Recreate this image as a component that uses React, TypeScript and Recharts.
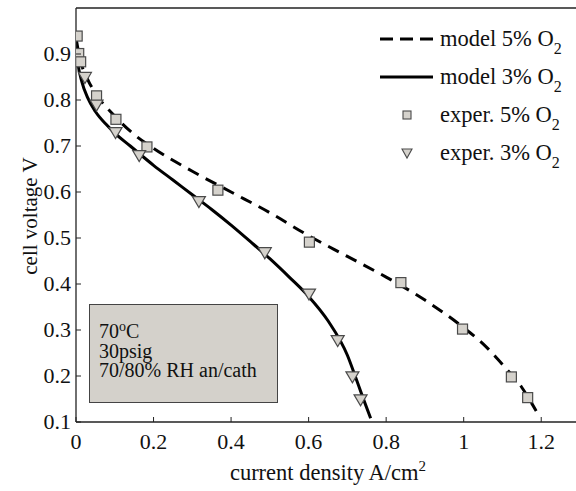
import { ComposedChart, Line, Scatter, XAxis, YAxis, Label } from "recharts"

// model curves (current density A/cm2, cell voltage V)
const model5Current = [0, 0.01, 0.03, 0.05, 0.1, 0.15, 0.2, 0.3, 0.4, 0.5, 0.6, 0.7, 0.8, 0.9, 1.0, 1.05, 1.1, 1.15, 1.187]
const model5Voltage = [0.935, 0.89, 0.845, 0.815, 0.765, 0.725, 0.695, 0.645, 0.6, 0.555, 0.505, 0.46, 0.415, 0.365, 0.305, 0.27, 0.225, 0.175, 0.124]

const model3Current = [0, 0.005, 0.015, 0.03, 0.05, 0.08, 0.1, 0.14, 0.2, 0.25, 0.3, 0.35, 0.4, 0.45, 0.5, 0.55, 0.6, 0.65, 0.7, 0.72, 0.74, 0.76]
const model3Voltage = [0.925, 0.88, 0.84, 0.805, 0.775, 0.745, 0.728, 0.7, 0.658, 0.626, 0.594, 0.562, 0.528, 0.492, 0.455, 0.415, 0.373, 0.32, 0.245, 0.2, 0.153, 0.108]

// experimental points
const exper5Current = [0.003, 0.007, 0.012, 0.053, 0.103, 0.183, 0.366, 0.602, 0.838, 0.997, 1.123, 1.165]
const exper5Voltage = [0.939, 0.901, 0.883, 0.809, 0.758, 0.698, 0.604, 0.491, 0.403, 0.302, 0.198, 0.153]

const exper3Current = [0.023, 0.053, 0.102, 0.163, 0.317, 0.487, 0.601, 0.675, 0.713, 0.734]
const exper3Voltage = [0.849, 0.789, 0.729, 0.679, 0.579, 0.468, 0.378, 0.277, 0.198, 0.148]

const currentTicks = [0, 0.2, 0.4, 0.6, 0.8, 1, 1.2]
const voltageTicks = [0.1, 0.2, 0.3, 0.4, 0.5, 0.6, 0.7, 0.8, 0.9]

const toPoints = (xs: number[], ys: number[]) => xs.map((i, k) => ({ i, v: ys[k] }))

const model5 = toPoints(model5Current, model5Voltage)
const model3 = toPoints(model3Current, model3Voltage)
const exper5 = toPoints(exper5Current, exper5Voltage)
const exper3 = toPoints(exper3Current, exper3Voltage)

const FONT = "'Liberation Serif', 'Times New Roman', serif"
const AXIS = "#222"
const MARKER_FILL = "#d5d2cc"
const MARKER_STROKE = "#4a4a4a"

const BottomTick = (p: any) => (
  <g>
    <line x1={p.x} x2={p.x} y1={p.y} y2={p.y - 5} stroke={AXIS} />
    <text x={p.x} y={p.y + 27} textAnchor="middle" fontFamily={FONT} fontSize={22} fill="#111">
      {String(p.payload.value)}
    </text>
  </g>
)
const TopTick = (p: any) => <line x1={p.x} x2={p.x} y1={p.y} y2={p.y + 5} stroke={AXIS} />
const LeftTick = (p: any) => (
  <g>
    <line x1={p.x} x2={p.x + 5} y1={p.y} y2={p.y} stroke={AXIS} />
    <text x={p.x - 5} y={p.y + 7} textAnchor="end" fontFamily={FONT} fontSize={22} fill="#111">
      {String(p.payload.value)}
    </text>
  </g>
)
const RightTick = (p: any) => <line x1={p.x} x2={p.x - 5} y1={p.y} y2={p.y} stroke={AXIS} />

const Square = (p: any) => (
  <rect x={p.cx - 5} y={p.cy - 5} width={10} height={10} fill={MARKER_FILL} stroke={MARKER_STROKE} strokeWidth={1.2} />
)
const TriangleDown = (p: any) => (
  <polygon
    points={`${p.cx - 6.5},${p.cy - 5} ${p.cx + 6.5},${p.cy - 5} ${p.cx},${p.cy + 6}`}
    fill={MARKER_FILL}
    stroke={MARKER_STROKE}
    strokeWidth={1.2}
  />
)

const XTitle = (p: any) => {
  const vb = p.viewBox
  return (
    <text x={vb.x + vb.width / 2} y={480} textAnchor="middle" fontFamily={FONT} fontSize={22.5} fill="#111">
      current density A/cm
      <tspan dy={-9} fontSize={15}>2</tspan>
    </text>
  )
}
const YTitle = () => (
  <text x={37} y={216} transform="rotate(-90, 37, 216)" textAnchor="middle" fontFamily={FONT} fontSize={21} fill="#111">
    cell voltage V
  </text>
)

const legendRows = [
  { label: "model 5% O", kind: "dashed" },
  { label: "model 3% O", kind: "solid" },
  { label: "exper. 5% O", kind: "square" },
  { label: "exper. 3% O", kind: "triangle" },
]

function LegendOverlay() {
  return (
    <svg width={576} height={491} style={{ position: "absolute", left: 0, top: 0, pointerEvents: "none" }}>
      {legendRows.map((row, k) => {
        const cy = 39 + k * 38
        return (
          <g key={row.label}>
            {row.kind === "dashed" && (
              <line x1={380} x2={433} y1={cy} y2={cy} stroke="#000" strokeWidth={3} strokeDasharray="13 7" />
            )}
            {row.kind === "solid" && <line x1={380} x2={433} y1={cy} y2={cy} stroke="#000" strokeWidth={3} />}
            {row.kind === "square" && (
              <rect x={403} y={cy - 4} width={8} height={8} fill={MARKER_FILL} stroke={MARKER_STROKE} strokeWidth={1.1} />
            )}
            {row.kind === "triangle" && (
              <polygon
                points={`${402},${cy - 4} ${412},${cy - 4} ${407},${cy + 5}`}
                fill={MARKER_FILL}
                stroke={MARKER_STROKE}
                strokeWidth={1.1}
              />
            )}
            <text x={440} y={cy + 7} fontFamily={FONT} fontSize={22.5} fill="#111">
              {row.label}
              <tspan dy={8} fontSize={16}>2</tspan>
            </text>
          </g>
        )
      })}
    </svg>
  )
}

function ConditionsBox() {
  return (
    <div
      style={{
        position: "absolute",
        left: 89,
        top: 304,
        width: 189,
        height: 99,
        boxSizing: "border-box",
        background: "#d4d1cb",
        border: "1px solid #444",
        fontFamily: FONT,
        fontSize: 20,
        color: "#111",
        lineHeight: "19.5px",
        padding: "17px 0 0 9px",
      }}
    >
      <div>
        70<sup style={{ fontSize: 14, verticalAlign: "7px", lineHeight: 0 }}>o</sup>C
      </div>
      <div>30psig</div>
      <div>70/80% RH an/cath</div>
    </div>
  )
}

export default function App() {
  return (
    <div style={{ position: "absolute", left: 0, top: 0, width: 576, height: 491, overflow: "hidden", background: "#fff" }}>
      <ComposedChart width={590} height={491} margin={{ top: 7, right: 0, bottom: 29, left: 20 }}>
        <XAxis
          dataKey="i"
          type="number"
          domain={[0, 1.3]}
          ticks={currentTicks}
          allowDataOverflow
          tickSize={0}
          tickMargin={0}
          height={40}
          stroke={AXIS}
          strokeWidth={1.3}
          tick={BottomTick}
        >
          <Label content={XTitle} />
        </XAxis>
        <XAxis
          xAxisId="top"
          orientation="top"
          dataKey="i"
          type="number"
          domain={[0, 1.3]}
          ticks={currentTicks}
          tickSize={0}
          tickMargin={0}
          height={1}
          stroke={AXIS}
          strokeWidth={1.3}
          tick={TopTick}
        />
        <YAxis
          dataKey="v"
          type="number"
          domain={[0.1, 1.0]}
          ticks={voltageTicks}
          allowDataOverflow
          tickSize={0}
          tickMargin={0}
          width={56}
          stroke={AXIS}
          strokeWidth={1.3}
          tick={LeftTick}
        >
          <Label content={YTitle} />
        </YAxis>
        <YAxis
          yAxisId="right"
          orientation="right"
          dataKey="v"
          type="number"
          domain={[0.1, 1.0]}
          ticks={voltageTicks}
          tickSize={0}
          tickMargin={0}
          width={10}
          stroke={AXIS}
          strokeWidth={1.3}
          tick={RightTick}
        />
        <Line
          data={model5}
          dataKey="v"
          type="monotoneX"
          stroke="#000"
          strokeWidth={3}
          strokeDasharray="12 8"
          dot={false}
          activeDot={false}
          isAnimationActive={false}
        />
        <Line
          data={model3}
          dataKey="v"
          type="monotoneX"
          stroke="#000"
          strokeWidth={3}
          dot={false}
          activeDot={false}
          isAnimationActive={false}
        />
        <Scatter data={exper5} dataKey="v" shape={Square} isAnimationActive={false} />
        <Scatter data={exper3} dataKey="v" shape={TriangleDown} isAnimationActive={false} />
      </ComposedChart>
      <LegendOverlay />
      <ConditionsBox />
    </div>
  )
}
